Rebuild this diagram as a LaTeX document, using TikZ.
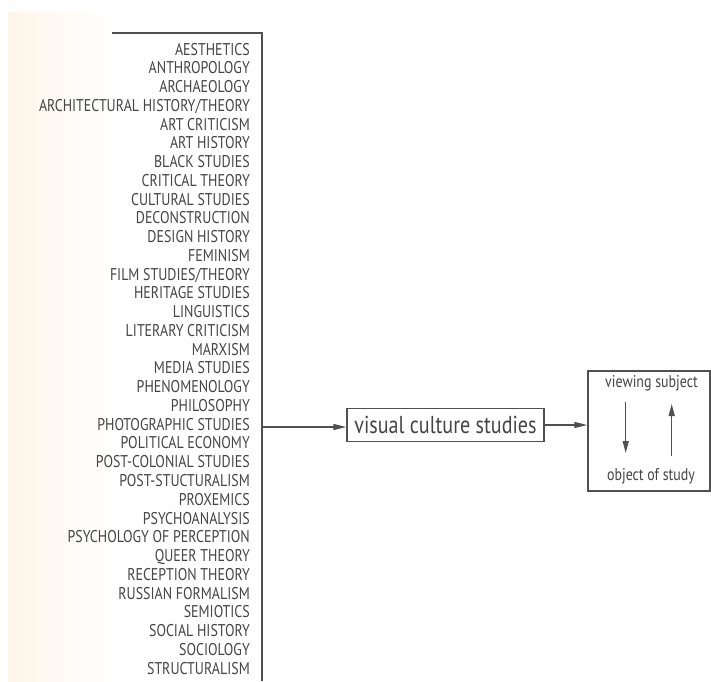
\documentclass[tikz,border=0pt]{standalone}
\usepackage{fontspec}
\setmainfont[FakeStretch=0.82]{PT Sans}
\usetikzlibrary{arrows.meta}
\definecolor{ink}{HTML}{454545}
\definecolor{linec}{HTML}{505050}
\definecolor{cream}{HTML}{FDF5E8}
\tikzset{
  item/.style={anchor=base east, inner sep=0pt, text=ink, font=\fontsize{17}{17}\selectfont},
  conn/.style={draw=linec, line width=1.5pt, -{Triangle[length=13pt,width=6pt]}},
  frame/.style={draw=linec, line width=1.5pt},
  small/.style={inner sep=0pt, text=ink, font=\fontsize{17}{17}\selectfont}
}
\begin{document}
\begin{tikzpicture}[x=1pt,y=-1pt]
\useasboundingbox (0,0) rectangle (711,681);
\fill[white] (0,0) rectangle (711,681);
\shade[left color=cream, right color=white, draw=none] (8,12) rectangle (110,681);
\foreach \t [count=\i from 0] in {AESTHETICS,ANTHROPOLOGY,ARCHAEOLOGY,ARCHITECTURAL HISTORY/THEORY,ART CRITICISM,ART HISTORY,BLACK STUDIES,CRITICAL THEORY,CULTURAL STUDIES,DECONSTRUCTION,DESIGN HISTORY,FEMINISM,FILM STUDIES/THEORY,HERITAGE STUDIES,LINGUISTICS,LITERARY CRITICISM,MARXISM,MEDIA STUDIES,PHENOMENOLOGY,PHILOSOPHY,PHOTOGRAPHIC STUDIES,POLITICAL ECONOMY,POST-COLONIAL STUDIES,POST-STUCTURALISM,PROXEMICS,PSYCHOANALYSIS,PSYCHOLOGY OF PERCEPTION,QUEER THEORY,RECEPTION THEORY,RUSSIAN FORMALISM,SEMIOTICS,SOCIAL HISTORY,SOCIOLOGY,STRUCTURALISM}
  \node[item] (l\i) at (250,{49+\i*18.76+6}) {\t};
\coordinate (ltop) at (112,33);
\coordinate (rtop) at (262,33);
\coordinate (rbot) at (262,681);
\coordinate (tap) at (262,427);
\draw[frame] (ltop) -- (rtop) -- (rbot);
\node[frame, inner sep=0pt, minimum width=197pt, minimum height=33pt, text=ink,
      font=\fontsize{24.5}{24.5}\selectfont] (vcs) at (445.5,425) {visual culture studies};
\node[frame, minimum width=122pt, minimum height=120pt] (rb) at (649,431) {};
\node[small] (vs) at (651.5,383) {viewing subject};
\node[small] (os) at (651,476) {object of study};
\coordinate (d1) at (625.7,401.7);
\coordinate (d2) at (625.7,453);
\coordinate (u1) at (671.7,456);
\coordinate (u2) at (671.7,404);
\draw[conn] (tap) -- (tap -| vcs.west);
\draw[conn] (vcs.east) -- (vcs.east -| rb.west);
\draw[conn, line width=1.2pt, -{Triangle[length=12pt,width=6pt]}] (d1) -- (d2);
\draw[conn, line width=1.2pt, -{Triangle[length=12pt,width=6pt]}] (u1) -- (u2);
\end{tikzpicture}
\end{document}
